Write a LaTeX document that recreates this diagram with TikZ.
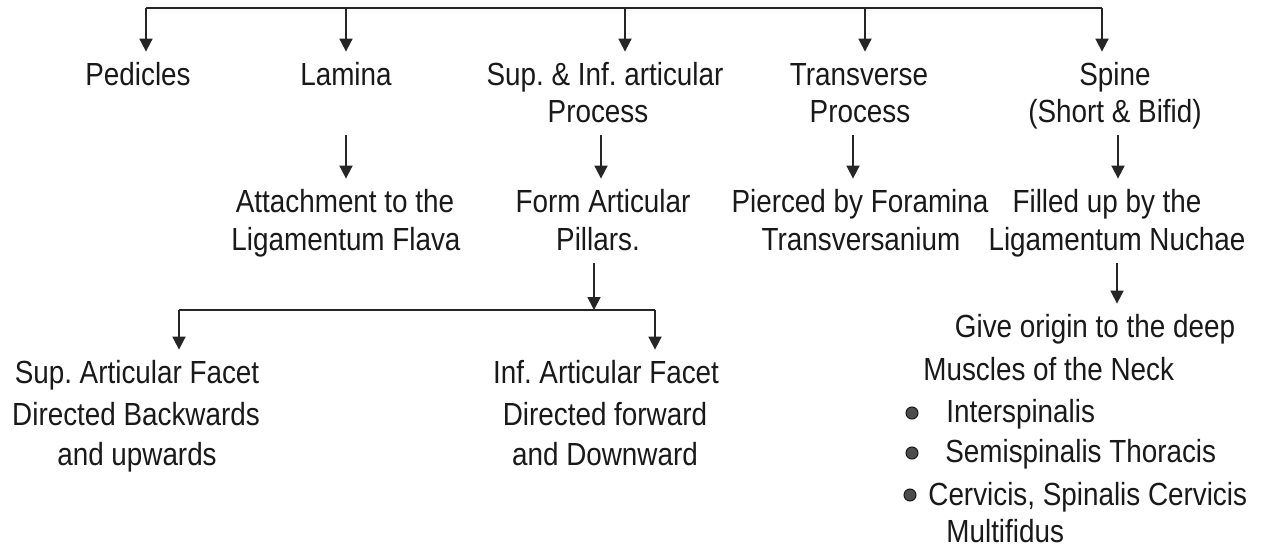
\documentclass[tikz,border=0pt]{standalone}
\usepackage{fontspec}
\setmainfont{Liberation Sans}[FakeStretch=0.87]
\usetikzlibrary{arrows.meta}
\frenchspacing
\tikzset{
  lbl/.style={inner xsep=0pt, inner ysep=6.5pt, text height=10pt, text depth=0pt,
              anchor=base, font=\fontsize{16}{19}\selectfont, text=black!90},
  lft/.style={lbl, anchor=base west},
  ln/.style={draw=black!85, line width=0.9pt},
  arr/.style={ln, -{Triangle[width=6.5pt,length=6.5pt]}},
  bul/.style={circle, inner sep=0pt, minimum size=6pt, fill=black!70, draw=black!90, line width=0.5pt}
}
\begin{document}
\begin{tikzpicture}[x=0.5pt,y=-0.5pt]
\useasboundingbox (0,0) rectangle (1265,546);
\fill[white] (0,0) rectangle (1265,546);
\clip (0,0) rectangle (1265,546);

% row 1
\node[lbl] (ped) at (138,85) {Pedicles};
\node[lbl] (lam) at (346,85) {Lamina};
\node[lbl] (sup1) at (605,85) {Sup. \& Inf. articular};
\node[lbl] (sup2) at (598,122) {Process};
\node[lbl] (tr1) at (859,85) {Transverse};
\node[lbl] (tr2) at (860,122) {Process};
\node[lbl] (sp1) at (1115,85) {Spine};
\node[lbl] (sp2) at (1115,122) {(Short \& Bifid)};

% row 2
\node[lbl] (att1) at (345,212) {Attachment to the};
\node[lbl] (att2) at (346,250) {Ligamentum Flava};
\node[lbl] (form1) at (603,212) {Form Articular};
\node[lbl] (form2) at (598,250) {Pillars.};
\node[lbl] (pier1) at (860,212) {Pierced by Foramina};
\node[lbl] (pier2) at (861,250) {Transversanium};
\node[lbl] (fill1) at (1107,212) {Filled up by the};
\node[lbl] (fill2) at (1117,250) {Ligamentum Nuchae};

% row 3
\node[lbl] (sa1) at (137,383) {Sup. Articular Facet};
\node[lbl] (sa2) at (136,425) {Directed Backwards};
\node[lbl] (sa3) at (137,465) {and upwards};
\node[lbl] (ia1) at (606,383) {Inf. Articular Facet};
\node[lbl] (ia2) at (605,425) {Directed forward};
\node[lbl] (ia3) at (605,465) {and Downward};

\node[lbl] (give) at (1095,337) {Give origin to the deep};
\node[lft] (mus) at (923,380) {Muscles of the Neck};
\node[bul] (d1) at (912,413) {};
\node[lft] (m1) at (946,422) {Interspinalis};
\node[bul] (d2) at (912,453) {};
\node[lft] (m2) at (945,462) {Semispinalis Thoracis};
\node[bul] (d3) at (910,495) {};
\node[lft] (m3) at (928,505) {Cervicis, Spinalis Cervicis};
\node[lft] (m4) at (946,542) {Multifidus};

% top bus
\coordinate (b1) at (146,8);
\coordinate (b2) at (346,8);
\coordinate (b3) at (625,8);
\coordinate (b4) at (865,8);
\coordinate (b5) at (1102,8);
\draw[ln] (b1) -- (b5);
\draw[arr] (b1) -- (b1 |- ped.north);
\draw[arr] (b2) -- (b2 |- lam.north);
\draw[arr] (b3) -- (b3 |- sup1.north);
\draw[arr] (b4) -- (b4 |- tr1.north);
\draw[arr] (b5) -- (b5 |- sp1.north);

% second level
\draw[arr, shorten <=18.5pt] (lam.south) -- (lam.south |- att1.north);
\draw[arr] ([xshift=1.5pt]sup2.south) -- ([xshift=1.5pt]sup2.south |- form1.north);
\draw[arr] ([xshift=-3.5pt]tr2.south) -- ([xshift=-3.5pt]tr2.south |- pier1.north);
\draw[arr] ([xshift=1.5pt]sp2.south) -- ([xshift=1.5pt]sp2.south |- fill1.north);

% pillars bus
\coordinate (pj) at (594,310);
\coordinate (lb1) at (179,310);
\coordinate (lb2) at (655,310);
\draw[arr] (pj |- form2.south) -- (pj);
\draw[ln] (lb1) -- (lb2);
\draw[arr] (lb1) -- (lb1 |- sa1.north);
\draw[arr] (lb2) -- (lb2 |- ia1.north);

% nuchae
\draw[arr] (fill2.south) -- (fill2.south |- give.north);
\end{tikzpicture}
\end{document}
